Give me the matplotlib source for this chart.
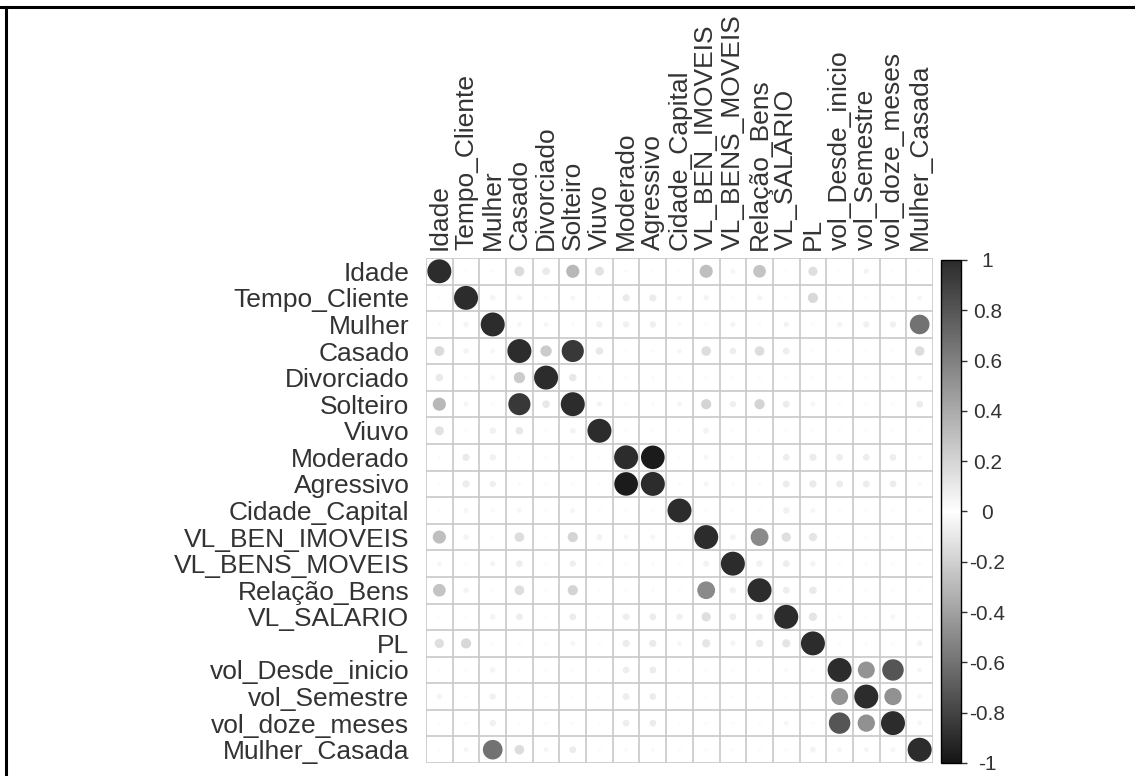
import numpy as np
import matplotlib
matplotlib.use("Agg")
import matplotlib.pyplot as plt
from matplotlib.colors import LinearSegmentedColormap, Normalize
from matplotlib.patches import Circle
from matplotlib.lines import Line2D
import matplotlib.cm as cm

plt.rcParams['font.family'] = ['Liberation Sans', 'DejaVu Sans']

# nomes das variaveis
variaveis = ['Idade', 'Tempo_Cliente', 'Mulher', 'Casado', 'Divorciado', 'Solteiro',
             'Viuvo', 'Moderado', 'Agressivo', 'Cidade_Capital', 'VL_BEN_IMOVEIS',
             'VL_BENS_MOVEIS', 'Relação_Bens', 'VL_SALARIO', 'PL', 'vol_Desde_inicio',
             'vol_Semestre', 'vol_doze_meses', 'Mulher_Casada']

# triangulo superior da matriz de correlacao (linha i, colunas j > i)
tri_sup = [
    [0.02, -0.02, 0.17, 0.10, -0.30, 0.14, -0.02, 0.02, 0.02, 0.30, 0.04, 0.28, 0.02, 0.15, 0.02, 0.05, 0.02, 0.02],
    [0.05, 0.05, 0.02, -0.04, 0.02, -0.09, 0.09, 0.04, 0.05, 0.02, 0.05, 0.02, 0.18, 0.02, 0.02, 0.02, 0.04],
    [0.04, 0.04, -0.02, 0.07, 0.07, -0.07, 0.03, 0.02, 0.05, 0.02, -0.05, 0.02, 0.05, 0.07, 0.07, 0.67],
    [-0.22, -0.85, -0.10, 0.02, -0.02, 0.04, 0.16, 0.08, 0.16, 0.08, 0.02, 0.02, 0.02, 0.02, 0.16],
    [-0.10, 0.02, 0.02, -0.02, 0.02, 0.02, 0.02, 0.02, 0.02, 0.02, 0.02, 0.02, 0.02, 0.04],
    [-0.05, 0.02, -0.02, -0.04, -0.18, -0.07, -0.18, -0.08, -0.04, 0.02, 0.02, 0.02, -0.08],
    [0.02, 0.02, 0.02, 0.06, 0.02, 0.02, 0.02, 0.02, 0.02, 0.02, 0.02, 0.02],
    [-0.97, 0.02, 0.04, 0.02, 0.02, 0.08, 0.09, 0.08, 0.08, 0.08, 0.03],
    [-0.02, -0.04, -0.02, -0.02, -0.08, -0.09, -0.08, -0.08, -0.08, -0.03],
    [0.02, 0.02, 0.02, 0.07, 0.04, 0.02, 0.02, 0.02, 0.02],
    [0.06, 0.55, 0.15, 0.12, 0.02, 0.02, 0.02, 0.02],
    [0.07, 0.08, 0.05, 0.02, 0.02, 0.02, 0.02],
    [0.08, 0.10, 0.02, 0.02, 0.02, 0.02],
    [0.12, 0.03, 0.02, 0.04, 0.02],
    [0.02, 0.02, 0.02, 0.06],
    [0.50, 0.80, 0.04],
    [0.52, 0.04],
    [0.04],
    [],
]

n = len(variaveis)
corr = np.eye(n)
for i, linha in enumerate(tri_sup):
    for k, v in enumerate(linha):
        j = i + 1 + k
        corr[i, j] = v
        corr[j, i] = v

cmap = LinearSegmentedColormap.from_list('cinza', [(0, '#151515'), (0.5, '#ffffff'), (1, '#2c2c2c')])
norm = Normalize(-1, 1)

W, H = 1135, 776
fig = plt.figure(figsize=(W / 100, H / 100), dpi=100)

# area da matriz
ax = fig.add_axes([426 / W, 1 - 763 / H, 507 / W, 505 / H])
ax.set_xlim(-0.5, n - 0.5)
ax.set_ylim(n - 0.5, -0.5)

for k in range(n + 1):
    ax.axhline(k - 0.5, color='#c8c8c8', lw=1.2, zorder=1)
    ax.axvline(k - 0.5, color='#c8c8c8', lw=1.2, zorder=1)

for i in range(n):
    for j in range(n):
        r = corr[i, j]
        ax.add_patch(Circle((j, i), 0.45 * np.sqrt(abs(r)), facecolor=cmap(norm(r)),
                            edgecolor='none', zorder=2))

for s in ax.spines.values():
    s.set_visible(False)

ax.set_yticks(range(n))
ax.set_yticklabels(variaveis, fontsize=19, color='#333333')
ax.xaxis.tick_top()
ax.set_xticks(range(n))
ax.set_xticklabels(variaveis, rotation=90, fontsize=19, color='#333333')
ax.tick_params(axis='y', length=0, pad=12)
ax.tick_params(axis='x', length=0, pad=6)

# legenda de cores
cax = fig.add_axes([941 / W, 1 - 763 / H, 20 / W, 503 / H])
sm = cm.ScalarMappable(norm=norm, cmap=cmap)
cb = fig.colorbar(sm, cax=cax, ticks=np.round(np.arange(-1, 1.01, 0.2), 1))
cb.ax.set_yticklabels(['-1', '-0.8', '-0.6', '-0.4', '-0.2', '0', '0.2', '0.4', '0.6', '0.8', '1'])
cb.outline.set_linewidth(1)
cb.outline.set_edgecolor('black')
cax.tick_params(length=4, width=1, labelsize=15, pad=15, colors='#333333')
for lab in cax.get_yticklabels():
    lab.set_horizontalalignment('center')

# moldura
fig.add_artist(Line2D([0, 1], [1 - 6.5 / H, 1 - 6.5 / H], color='black', lw=2.2, transform=fig.transFigure))
fig.add_artist(Line2D([5.5 / W, 5.5 / W], [0, 1 - 6.5 / H], color='black', lw=2.2, transform=fig.transFigure))

fig.savefig('out.png', dpi=100)
